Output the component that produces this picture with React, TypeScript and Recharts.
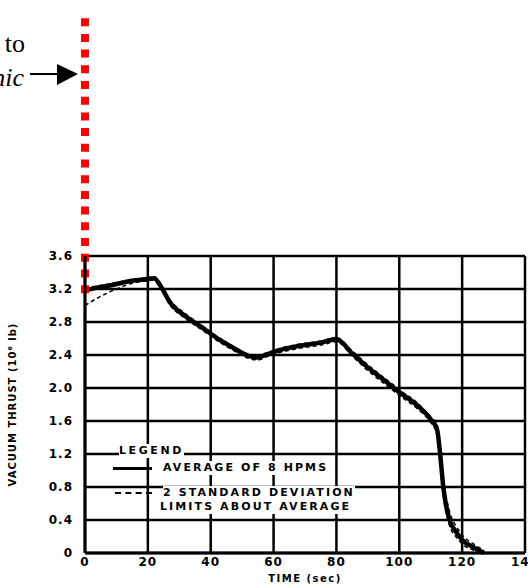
import { LineChart, Line, XAxis, YAxis, CartesianGrid, ReferenceLine } from "recharts";

// time (sec) and vacuum thrust (10^6 lb)
const TIME = [0, 3, 6, 10, 15, 20, 22, 24, 27, 32, 37, 43, 47, 52, 55, 58, 62, 68, 75, 80, 85, 90, 95, 100, 106, 110, 112, 113, 114, 116, 118, 120, 124, 127];
const AVERAGE = [3.18, 3.21, 3.23, 3.26, 3.3, 3.32, 3.33, 3.24, 3.04, 2.87, 2.74, 2.58, 2.49, 2.39, 2.37, 2.41, 2.46, 2.51, 2.55, 2.59, 2.42, 2.25, 2.1, 1.95, 1.78, 1.62, 1.5, 1.2, 0.8, 0.4, 0.26, 0.16, 0.06, 0];
const UPPER_2SD = [3.2, 3.23, 3.25, 3.28, 3.31, 3.34, 3.35, 3.27, 3.07, 2.9, 2.76, 2.6, 2.51, 2.41, 2.39, 2.43, 2.48, 2.53, 2.57, 2.61, 2.45, 2.28, 2.13, 1.98, 1.81, 1.65, 1.56, 1.3, 0.92, 0.5, 0.33, 0.22, 0.1, 0.03];
const LOWER_2SD = [3.0, 3.07, 3.13, 3.2, 3.27, 3.3, 3.31, 3.21, 3.01, 2.84, 2.71, 2.55, 2.46, 2.36, 2.34, 2.38, 2.43, 2.48, 2.52, 2.56, 2.39, 2.21, 2.06, 1.91, 1.74, 1.58, 1.44, 1.12, 0.7, 0.33, 0.2, 0.11, 0.03, 0];

const X_TICKS = [0, 20, 40, 60, 80, 100, 120, 140];
const Y_TICKS = [0, 0.4, 0.8, 1.2, 1.6, 2.0, 2.4, 2.8, 3.2, 3.6];

const LEGEND_TITLE = "LEGEND";
const LEGEND_AVG = "AVERAGE OF 8 HPMS";
const LEGEND_SD = ["2 STANDARD DEVIATION", "LIMITS ABOUT AVERAGE"];

const FONT = "'DejaVu Sans', sans-serif";

const chartData = TIME.map((t, i) => ({
  t,
  avg: AVERAGE[i],
  hi: UPPER_2SD[i],
  lo: LOWER_2SD[i],
}));

const labelStyle = {
  fontFamily: FONT,
  fontWeight: 700,
  fontSize: 11,
  letterSpacing: 2.1,
  background: "#fff",
  color: "#000",
  lineHeight: "14px",
  whiteSpace: "nowrap" as const,
};

// hand-drawn legend box sitting over the lower-left of the grid
const LegendBox = () => (
  <div style={{ position: "absolute", left: 110, top: 443, width: 270, height: 72 }}>
    <div style={{ ...labelStyle, position: "absolute", left: 9, top: 1, letterSpacing: 2.6 }}>{LEGEND_TITLE}</div>
    <div style={{ position: "absolute", left: 3, top: 24, width: 39, height: 3, background: "#000" }} />
    <div style={{ ...labelStyle, position: "absolute", left: 53, top: 18 }}>{LEGEND_AVG}</div>
    <div style={{ position: "absolute", left: 5, top: 49, width: 37, borderTop: "2px dashed #000" }} />
    <div style={{ ...labelStyle, position: "absolute", left: 53, top: 43 }}>{LEGEND_SD[0]}</div>
    <div style={{ ...labelStyle, position: "absolute", left: 50, top: 57 }}>{LEGEND_SD[1]}</div>
  </div>
);

const App = () => {
  return (
    <div style={{ position: "absolute", left: 0, top: 0, width: 528, height: 585, background: "#fff" }}>
      <LineChart width={528} height={585} data={chartData} margin={{ top: 256, right: 3, bottom: 0, left: 0 }}>
        <CartesianGrid stroke="#000" strokeWidth={2.5} />
        <XAxis
          dataKey="t"
          type="number"
          domain={[0, 140]}
          ticks={X_TICKS}
          interval={0}
          height={32}
          tickLine={false}
          axisLine={{ stroke: "#000", strokeWidth: 3 }}
          tick={{ fontSize: 12, fontWeight: 700, fill: "#000", fontFamily: FONT, letterSpacing: 1 }}
          tickMargin={-2}
          label={{ value: "TIME (sec)", position: "insideBottom", offset: 3, fontSize: 10, fontWeight: 700, fill: "#000", fontFamily: FONT, letterSpacing: 1.5 }}
        />
        <YAxis
          type="number"
          domain={[0, 3.6]}
          ticks={Y_TICKS}
          interval={0}
          width={85}
          tickLine={false}
          axisLine={{ stroke: "#000", strokeWidth: 3 }}
          tickMargin={6}
          tickFormatter={(v: number) => (v === 0 ? "0" : v.toFixed(1))}
          tick={{ fontSize: 12, fontWeight: 700, fill: "#000", fontFamily: FONT, letterSpacing: 1 }}
          label={{ value: "VACUUM THRUST (10⁶ lb)", angle: -90, position: "insideLeft", offset: 12, fontSize: 10, fontWeight: 700, fill: "#000", fontFamily: FONT, letterSpacing: 1, style: { textAnchor: "middle" } }}
        />
        <Line type="monotone" dataKey="hi" stroke="#000" strokeWidth={1.5} strokeDasharray="4 3" dot={false} isAnimationActive={false} />
        <Line type="monotone" dataKey="lo" stroke="#000" strokeWidth={1.5} strokeDasharray="4 3" dot={false} isAnimationActive={false} />
        <Line type="monotone" dataKey="avg" stroke="#000" strokeWidth={4.5} dot={false} isAnimationActive={false} />
        <ReferenceLine
          segment={[{ x: 0, y: 3.15 }, { x: 0, y: 6.53 }]}
          stroke="#ff0000"
          strokeWidth={8}
          strokeDasharray="8 7.7"
          ifOverflow="visible"
        />
      </LineChart>
      <LegendBox />
      <svg width={528} height={120} style={{ position: "absolute", left: 0, top: 0, pointerEvents: "none" }}>
        <text x={25} y={52} textAnchor="end" fontFamily="'Liberation Serif', serif" fontSize={26} fill="#000">to</text>
        <text x={24} y={86} textAnchor="end" fontFamily="'Liberation Serif', serif" fontStyle="italic" fontSize={26} fill="#000">nic</text>
        <line x1={30} y1={74} x2={60} y2={74} stroke="#000" strokeWidth={2} />
        <polygon points="57,64 78,74 57,85" fill="#000" />
      </svg>
    </div>
  );
};

export default App;
